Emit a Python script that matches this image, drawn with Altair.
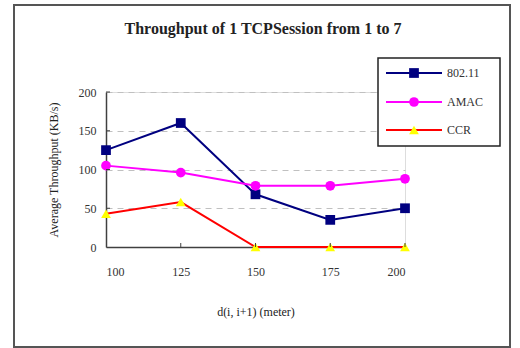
import altair as alt
import pandas as pd

# ---- data ----
distances = [100, 125, 150, 175, 200]
y_ticks = [0, 50, 100, 150, 200]
series_names = ["802.11", "AMAC", "CCR"]
v_80211 = [125, 160, 68, 35, 50]
v_amac = [105, 96, 79, 79, 88]
v_ccr = [43, 58, 0, 0, 0]
title_text = "Throughput of 1 TCPSession from 1 to 7"

line_colors = ["#000080", "#FF00FF", "#FF0000"]
marker_fills = ["#000080", "#FF00FF", "#FFFF00"]
marker_shapes = ["square", "circle", "triangle-up"]

rows = []
for name, vals in zip(series_names, [v_80211, v_amac, v_ccr]):
    for d, v in zip(distances, vals):
        rows.append({"d": d, "value": v, "series": name})
df = pd.DataFrame(rows)

FONT = "Liberation Serif"
W, H = 299, 155

x_scale = alt.Scale(domain=[100, 200], nice=False, zero=False)
y_scale = alt.Scale(domain=[0, 200], nice=False)

x_axis = alt.Axis(values=distances, title="d(i, i+1)  (meter)",
                  grid=False, ticks=False, tickSize=0,
                  labelPadding=19, titlePadding=29, labelOverlap=False,
                  labelFont=FONT, labelFontSize=12, labelColor="#333",
                  titleFont=FONT, titleFontSize=12, titleFontWeight="normal",
                  titleColor="#222",
                  domainColor="#404040", domainWidth=1.5)
y_axis = alt.Axis(values=y_ticks, tickCount=5,
                  title="Average Throughput (KB/s)",
                  grid=True, gridColor="#c0c0c0", gridDash=[6, 5], gridWidth=1,
                  ticks=False, tickSize=0, labelPadding=10,
                  titlePadding=18, labelOverlap=False,
                  labelFont=FONT, labelFontSize=12, labelColor="#333",
                  titleFont=FONT, titleFontSize=12, titleFontWeight="normal",
                  titleColor="#222",
                  domainColor="#404040", domainWidth=1.5)

x_enc = alt.X("d:Q", scale=x_scale, axis=x_axis)
y_enc = alt.Y("value:Q", scale=y_scale, axis=y_axis)

sel_scale_color = alt.Scale(domain=series_names, range=line_colors)
sel_scale_fill = alt.Scale(domain=series_names, range=marker_fills)
sel_scale_shape = alt.Scale(domain=series_names, range=marker_shapes)

border = alt.Chart(pd.DataFrame({"a": [0]})).mark_rect(
    fill="white", fillOpacity=0, stroke="#555", strokeWidth=2
).encode(x=alt.value(-92), x2=alt.value(404), y=alt.value(-87), y2=alt.value(255))

title_mark = alt.Chart(pd.DataFrame({"t": [title_text]})).mark_text(
    font=FONT, fontSize=16, fontWeight="bold", color="#222",
    align="center", baseline="middle"
).encode(x=alt.value(157), y=alt.value(-63), text="t:N")

lines = alt.Chart(df).mark_line(strokeWidth=2).encode(
    x=x_enc, y=y_enc,
    color=alt.Color("series:N", scale=sel_scale_color, legend=None),
    detail="series:N",
)

points = alt.Chart(df).mark_point(filled=True, opacity=1, size=95, strokeWidth=0).encode(
    x=x_enc, y=y_enc,
    fill=alt.Fill("series:N", scale=sel_scale_fill, legend=None),
    shape=alt.Shape("series:N", scale=sel_scale_shape, legend=None),
)

x_tick_marks = alt.Chart(pd.DataFrame({"d": distances[1:]})).mark_rule(
    color="#404040", strokeWidth=1
).encode(x=alt.X("d:Q", scale=x_scale, axis=x_axis), y=alt.value(H), y2=alt.value(H - 4))

y_tick_marks = alt.Chart(pd.DataFrame({"value": y_ticks[1:]})).mark_rule(
    color="#404040", strokeWidth=1
).encode(y=alt.Y("value:Q", scale=y_scale, axis=y_axis), x=alt.value(0), x2=alt.value(4))

# ---- legend box (drawn by hand to match the reference) ----
legend_box = alt.Chart(pd.DataFrame({"a": [0]})).mark_rect(
    fill="white", stroke="#222", strokeWidth=1.5
).encode(x=alt.value(272), x2=alt.value(394), y=alt.value(-34), y2=alt.value(54))

legend_layers = []
legend_y = [-19, 10, 38]
for i, name in enumerate(series_names):
    ld = pd.DataFrame({"series": [name]})
    legend_layers.append(
        alt.Chart(ld).mark_rule(color=line_colors[i], strokeWidth=2).encode(
            x=alt.value(280), x2=alt.value(336), y=alt.value(legend_y[i]))
    )
    legend_layers.append(
        alt.Chart(ld).mark_point(filled=True, opacity=1, size=95, strokeWidth=0,
                                 shape=marker_shapes[i], fill=marker_fills[i]).encode(
            x=alt.value(308), y=alt.value(legend_y[i]))
    )
    legend_layers.append(
        alt.Chart(ld).mark_text(align="left", baseline="middle", font=FONT,
                                fontSize=12, color="#333").encode(
            x=alt.value(341), y=alt.value(legend_y[i]), text="series:N")
    )

chart = alt.layer(border, title_mark, lines, points, x_tick_marks, y_tick_marks,
                  legend_box, *legend_layers).properties(
    width=W, height=H,
    autosize=alt.AutoSizeParams(type="none"),
    padding={"left": 106, "top": 92, "right": 115, "bottom": 101},
).configure_view(stroke=None).configure(background="white")

chart.save("out.html", embed_options={"renderer": "svg", "actions": False})
